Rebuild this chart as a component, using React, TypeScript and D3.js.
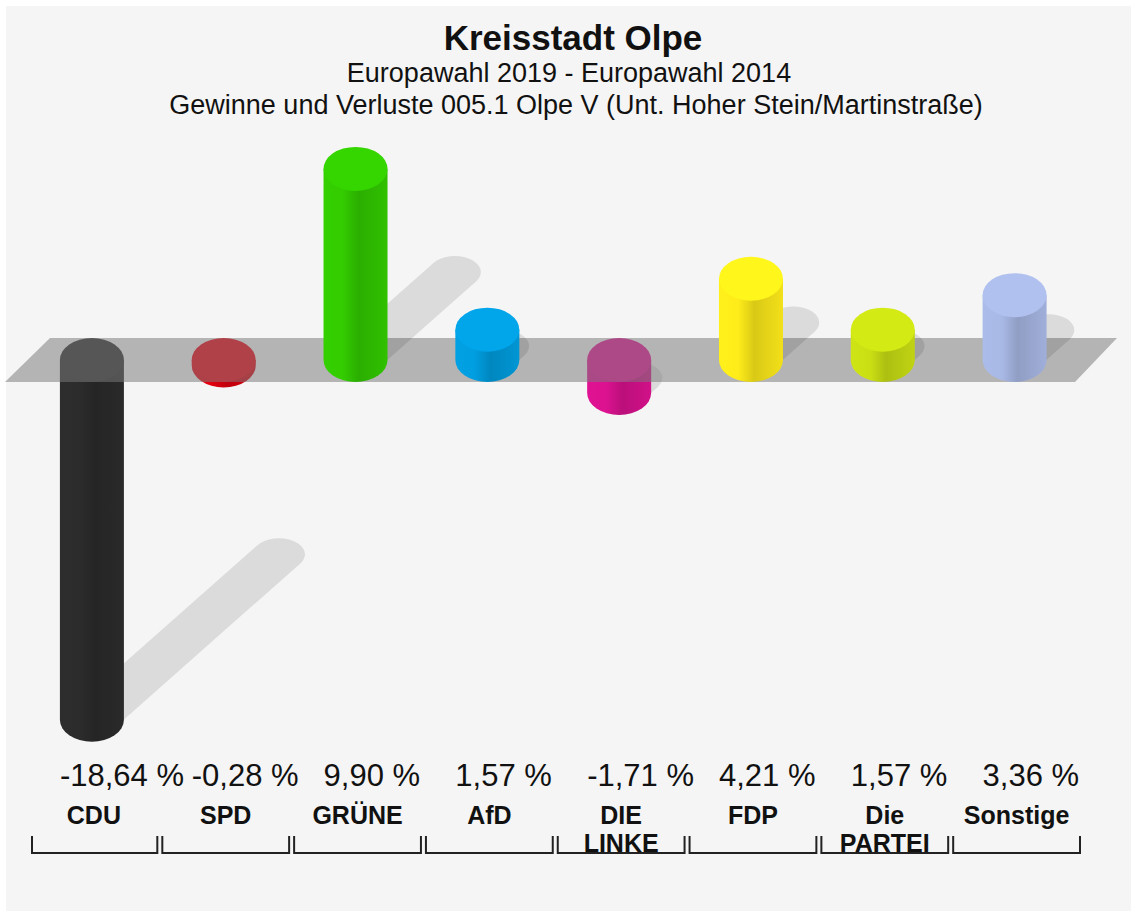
import React from 'react';
import * as d3 from 'd3';

const parties = ['CDU', 'SPD', 'GRÜNE', 'AfD', 'DIE LINKE', 'FDP', 'Die PARTEI', 'Sonstige'];
const partyLines = [['CDU'], ['SPD'], ['GRÜNE'], ['AfD'], ['DIE', 'LINKE'], ['FDP'], ['Die', 'PARTEI'], ['Sonstige']];
const values = [-18.64, -0.28, 9.9, 1.57, -1.71, 4.21, 1.57, 3.36];
const colors = ['#2c2c2c', '#e3000f', '#33cc00', '#009ee0', '#dc1290', '#ffec1a', '#cbe014', '#a9b9e6'];
const titleLines = [
  'Kreisstadt Olpe',
  'Europawahl 2019 - Europawahl 2014',
  'Gewinne und Verluste 005.1 Olpe V (Unt. Hoher Stein/Martinstraße)',
];

const W = 1131;
const H = 911;
const zeroY = 360;
const RX = 32;
const RY = 22;
const SRX = 26;
const SRY = 16;
const FONT = '"Liberation Sans", Arial, Helvetica, sans-serif';

const x = d3.scaleBand<string>().domain(parties).range([28, 1082.5]).padding(0);
const y = d3.scaleLinear().domain([0, 10]).range([zeroY, zeroY - 193]);

const fmt = (v: number) => v.toFixed(2).replace('.', ',') + ' %';

function bodyPath(cx: number, yTop: number, yBot: number) {
  return `M${cx - RX},${yTop} L${cx - RX},${yBot} A${RX},${RY} 0 0 0 ${cx + RX},${yBot} L${cx + RX},${yTop} Z`;
}

function Shadow({ sx, sy, tx, ty }: { sx: number; sy: number; tx: number; ty: number }) {
  const dx = tx - sx;
  const dy = ty - sy;
  const t = Math.atan2(-SRY * dx, SRX * dy);
  const px = SRX * Math.cos(t);
  const py = SRY * Math.sin(t);
  const pts = [
    [sx + px, sy + py],
    [tx + px, ty + py],
    [tx - px, ty - py],
    [sx - px, sy - py],
  ];
  return (
    <g>
      <ellipse cx={sx} cy={sy} rx={SRX} ry={SRY} />
      <ellipse cx={tx} cy={ty} rx={SRX} ry={SRY} />
      <polygon points={pts.map((p) => p.join(',')).join(' ')} />
    </g>
  );
}

export default function App() {
  const items = parties.map((p, i) => {
    const v = values[i];
    const cx = (x(p) as number) + x.bandwidth() / 2 - 2;
    const h = Math.abs(y(v) - zeroY);
    const yTop = v >= 0 ? y(v) : zeroY;
    const yBot = v >= 0 ? zeroY : y(v);
    const sStart = v >= 0 ? { sx: cx, sy: zeroY } : { sx: cx, sy: yBot };
    const tip = { tx: sStart.sx + 0.52 * h, ty: sStart.sy - 0.46 * h };
    return { p, i, v, cx, h, yTop, yBot, ...sStart, ...tip };
  });

  const neg = items.filter((d) => d.v < 0);
  const pos = items.filter((d) => d.v >= 0);

  const Bar = (d: (typeof items)[number]) => {
    const base = d3.color(colors[d.i])!;
    return (
      <g key={d.p}>
        <path d={bodyPath(d.cx, d.yTop, d.yBot)} fill={`url(#grad${d.i})`} />
        <ellipse cx={d.cx} cy={d.yTop} rx={RX} ry={RY} fill={base.brighter(0.12).formatHex()} />
      </g>
    );
  };

  const boundaries = parties.map((p) => x(p) as number).concat([x.range()[1]]);

  return (
    <svg width={W} height={H} style={{ position: 'absolute', left: 0, top: 0 }} fontFamily={FONT}>
      <defs>
        {colors.map((c, i) => {
          const base = d3.color(c)!;
          return (
            <linearGradient key={i} id={`grad${i}`} x1="0" y1="0" x2="1" y2="0">
              <stop offset="0%" stopColor={base.brighter(0.05).formatHex()} />
              <stop offset="30%" stopColor={base.formatHex()} />
              <stop offset="55%" stopColor={base.darker(0.45).formatHex()} />
              <stop offset="100%" stopColor={base.darker(0.15).formatHex()} />
            </linearGradient>
          );
        })}
      </defs>
      <rect x={0} y={0} width={W} height={H} fill="#ffffff" />
      <rect x={6} y={6} width={W - 6} height={H - 6} fill="#f5f5f5" />

      {/* titles */}
      <text x={573} y={50} textAnchor="middle" fontSize={35} fontWeight="bold" fill="#111">{titleLines[0]}</text>
      <text x={569} y={82} textAnchor="middle" fontSize={27} fill="#111">{titleLines[1]}</text>
      <text x={576} y={114} textAnchor="middle" fontSize={27} fill="#111">{titleLines[2]}</text>

      {/* shadows of negative bars (below the plane) */}
      <g fill="#000" opacity={0.1}>
        {neg.map((d) => (
          <Shadow key={d.p} sx={d.sx} sy={d.sy} tx={d.tx} ty={d.ty} />
        ))}
      </g>
      {neg.map(Bar)}

      {/* zero plane */}
      <polygon points="50,338 1117,338 1075,382 5,382" fill="#7a7a7a" opacity={0.53} />

      {/* shadows of positive bars */}
      <g fill="#000" opacity={0.1}>
        {pos.map((d) => (
          <Shadow key={d.p} sx={d.sx} sy={d.sy} tx={d.tx} ty={d.ty} />
        ))}
      </g>
      {pos.map(Bar)}

      {/* value labels */}
      {items.map((d) => (
        <text key={d.p} x={d.cx - RX} y={786} fontSize={31} fill="#111">{fmt(d.v)}</text>
      ))}

      {/* party labels */}
      {items.map((d) =>
        partyLines[d.i].map((line, li) => (
          <text key={d.p + li} x={(x(d.p) as number) + x.bandwidth() / 2} y={824 + li * 28} textAnchor="middle" fontSize={25} fontWeight="bold" fill="#111">
            {line}
          </text>
        ))
      )}

      {/* brackets */}
      <g stroke="#222" strokeWidth={2} fill="none">
        {parties.map((p, i) => {
          const x0 = boundaries[i] + (i === 0 ? 4 : 2.5);
          const x1 = boundaries[i + 1] - 2.5;
          return <path key={p} d={`M${x0},836 L${x0},853 L${x1},853 L${x1},836`} />;
        })}
      </g>
    </svg>
  );
}
